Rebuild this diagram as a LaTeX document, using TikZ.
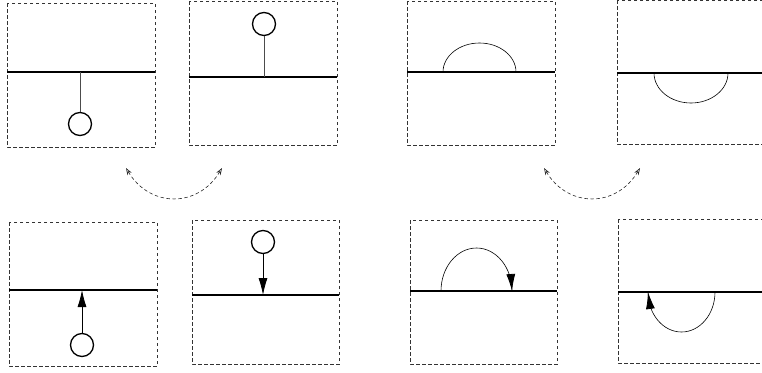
\documentclass[tikz,border=0pt]{standalone}
\usetikzlibrary{arrows.meta}
\begin{document}
\begin{tikzpicture}[x=1pt,y=-1pt,
  frame/.style={draw=black!80,dash pattern=on 3.5pt off 2.5pt,line width=0.6pt},
  surface/.style={draw=black,line width=1.6pt},
  ball/.style={circle,draw=black,line width=1.3pt,minimum size=23pt,inner sep=0pt},
  stem/.style={draw=black!70,line width=0.8pt},
  push/.style={draw=black,line width=0.8pt,-{Latex[length=17pt,width=9pt]}},
  curl/.style={draw=black,line width=0.6pt},
  swap/.style={draw=black!85,line width=0.6pt,dash pattern=on 3.5pt off 2.5pt,
    {Stealth[open,length=7pt,width=5pt]}-{Stealth[open,length=7pt,width=5pt]}}]
\clip (0,0) rectangle (762,372);
\useasboundingbox (0,0) rectangle (762,372);

% ---- top row ----
% box 1
\draw[frame] (7,3) rectangle (155,147);
\draw[surface] (7,72) -- (155,72);
\node[ball] (c1) at (80,124) {};
\coordinate (p1) at (80,72);
\draw[stem] (c1.north) -- (p1);
% box 2
\draw[frame] (189,1) rectangle (337,145);
\draw[surface] (189,77) -- (337,77);
\node[ball] (c2) at (264,24) {};
\coordinate (p2) at (264,77);
\draw[stem] (c2.south) -- (p2);
% box 3
\draw[frame] (407,1) rectangle (555,145);
\draw[surface] (407,72) -- (555,72);
\draw[curl] (443,72) .. controls (443,56) and (459.4,43) .. (479.5,43)
  .. controls (499.6,43) and (516,56) .. (516,72);
% box 4
\draw[frame] (617,0) rectangle (765,144);
\draw[surface] (617,73) -- (765,73);
\draw[curl] (654,73) .. controls (654,89.6) and (670.6,103) .. (691,103)
  .. controls (711.4,103) and (728,89.6) .. (728,73);
% swap arrows
\coordinate (a1) at (126,168);
\coordinate (a2) at (222,168);
\draw[swap] (a1) .. controls (150,208) and (198,208) .. (a2);
\coordinate (a3) at (544,168);
\coordinate (a4) at (640,168);
\draw[swap] (a3) .. controls (568,208) and (616,208) .. (a4);

% ---- bottom row ----
% box 5
\draw[frame] (9,222) rectangle (157,366);
\draw[surface] (9,290) -- (157,290);
\node[ball] (c5) at (82,345) {};
\coordinate (p5) at (82,290);
\draw[push] (c5.north) -- (p5);
% box 6
\draw[frame] (192,220) rectangle (339,364);
\draw[surface] (192,295) -- (339,295);
\node[ball] (c6) at (263,242) {};
\coordinate (p6) at (263,295);
\draw[push] (c6.south) -- (p6);
% box 7
\draw[frame] (410,220) rectangle (557,364);
\draw[surface] (410,291) -- (557,291);
\coordinate (p7) at (512,291);
\draw[curl] (441,291) .. controls (441,267.3) and (456.9,248) .. (476.5,248)
  .. controls (496.1,248) and (512,267.3) .. (p7);
\coordinate (q7) at (511.5,284);
\draw[push] (q7) -- (p7);
% box 8
\draw[frame] (618,219) rectangle (766,363);
\draw[surface] (618,292) -- (766,292);
\coordinate (p8) at (648,292);
\draw[curl] (715,292) .. controls (715,314.1) and (700,332) .. (681.5,332)
  .. controls (663,332) and (648,314.1) .. (p8);
\coordinate (q8) at (649,299);
\draw[push] (q8) -- (p8);
\end{tikzpicture}
\end{document}
